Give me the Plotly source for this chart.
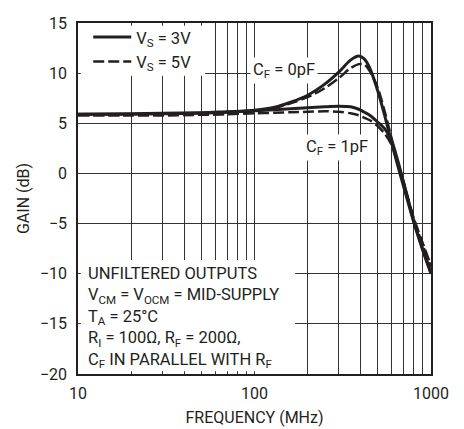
import plotly.graph_objects as go

# ---------------- data ----------------
freq_mhz = [10, 20, 30, 50, 70, 100, 130, 160, 200, 250, 300, 350, 390, 420, 450,
            500, 550, 600, 650, 700, 800, 900, 1000]

gain_3v_0pf = [5.9, 5.9, 5.95, 6.0, 6.1, 6.3, 6.6, 7.1, 7.8, 8.9, 10.1, 11.3, 11.7, 11.4, 10.5,
               8.2, 5.6, 3.0, 0.7, -1.3, -4.9, -7.7, -10.0]
gain_5v_0pf = [5.8, 5.8, 5.8, 5.85, 5.95, 6.2, 6.5, 7.0, 7.6, 8.5, 9.5, 10.5, 10.9, 10.85, 10.2,
               8.5, 6.0, 3.4, 1.0, -1.0, -4.5, -7.0, -9.2]
gain_3v_1pf = [5.9, 5.95, 6.0, 6.05, 6.15, 6.25, 6.35, 6.45, 6.55, 6.65, 6.7, 6.65, 6.4, 6.1, 5.8,
               5.1, 4.4, 3.2, 1.2, -0.9, -4.8, -7.6, -9.9]
gain_5v_1pf = [5.8, 5.8, 5.8, 5.85, 5.9, 6.0, 6.05, 6.1, 6.15, 6.2, 6.15, 6.0, 5.8, 5.55, 5.3,
               4.7, 3.9, 2.8, 1.0, -0.9, -4.6, -7.2, -9.3]

x_grid_vals = [10, 20, 30, 40, 50, 60, 70, 80, 90, 100, 200, 300, 400, 500, 600, 700, 800, 900, 1000]
x_tick_text = ["10", "", "", "", "", "", "", "", "", "100", "", "", "", "", "", "", "", "", "1000"]
y_ticks = [-20, -15, -10, -5, 0, 5, 10, 15]

FONT = "Roboto, Liberation Sans, sans-serif"
INK = "#231f20"

fig = go.Figure()
fig.add_trace(go.Scatter(x=freq_mhz, y=gain_3v_0pf, mode="lines", name="V<sub>S</sub> = 3V",
                         legendgroup="3v", line=dict(color=INK, width=3, shape="spline", smoothing=0.8)))
fig.add_trace(go.Scatter(x=freq_mhz, y=gain_5v_0pf, mode="lines", name="V<sub>S</sub> = 5V",
                         legendgroup="5v", line=dict(color=INK, width=2.5, dash="11px,4px", shape="spline", smoothing=0.8)))
fig.add_trace(go.Scatter(x=freq_mhz, y=gain_3v_1pf, mode="lines", showlegend=False,
                         legendgroup="3v", line=dict(color=INK, width=3, shape="spline", smoothing=0.8)))
fig.add_trace(go.Scatter(x=freq_mhz, y=gain_5v_1pf, mode="lines", showlegend=False,
                         legendgroup="5v", line=dict(color=INK, width=2.5, dash="11px,4px", shape="spline", smoothing=0.8)))

# white boxes behind legend and note
fig.add_shape(type="rect", xref="paper", yref="paper", x0=0.008, x1=0.36, y0=0.85, y1=0.992,
              fillcolor="white", line=dict(width=0), layer="above")
fig.add_shape(type="rect", xref="paper", yref="paper", x0=0.008, x1=0.615, y0=0.008, y1=0.325,
              fillcolor="white", line=dict(width=0), layer="above")

fig.add_annotation(x=0.022, y=0.002, xref="paper", yref="paper", xanchor="left", yanchor="bottom",
                   align="left", showarrow=False, font=dict(size=16.5, color=INK, family=FONT),
                   text="UNFILTERED OUTPUTS<br>V<sub>CM</sub> = V<sub>OCM</sub> = MID-SUPPLY<br>"
                        "T<sub>A</sub> = 25°C<br>R<sub>I</sub> = 100Ω, R<sub>F</sub> = 200Ω,<br>"
                        "C<sub>F</sub> IN PARALLEL WITH R<sub>F</sub>")
fig.add_annotation(x=2.165, y=10.3, xref="x", yref="y", showarrow=False, bgcolor="white", borderpad=2,
                   font=dict(size=16.5, color=INK, family=FONT), text="C<sub>F</sub> = 0pF")
fig.add_annotation(x=2.47, y=2.6, xref="x", yref="y", showarrow=False, bgcolor="white", borderpad=2,
                   font=dict(size=16.5, color=INK, family=FONT), text="C<sub>F</sub> = 1pF")

fig.update_layout(
    width=464, height=429,
    margin=dict(l=78, r=33, t=23, b=55),
    paper_bgcolor="white", plot_bgcolor="white",
    font=dict(family=FONT, size=16, color=INK),
    legend=dict(x=0.029, y=1.009, xanchor="left", yanchor="top", bgcolor="rgba(0,0,0,0)",
                font=dict(size=16.5, family=FONT, color=INK), itemwidth=38, tracegroupgap=0),
    showlegend=True,
)
fig.update_xaxes(type="log", range=[1, 3], tickvals=x_grid_vals, ticktext=x_tick_text,
                 showgrid=True, gridcolor="#333", gridwidth=1, ticks="", automargin=False,
                 showline=True, linecolor=INK, linewidth=1.5, mirror=True,
                 ticklabelstandoff=4,
                 title=dict(text="FREQUENCY (MHz)", font=dict(size=16, family=FONT), standoff=10),
                 tickfont=dict(size=16, family=FONT))
fig.update_yaxes(range=[-20, 15], tickvals=y_ticks, showgrid=True, gridcolor="#333", gridwidth=1,
                 zeroline=False, ticks="", showline=True, linecolor=INK, linewidth=1.5, mirror=True,
                 ticklabelstandoff=6, automargin=False,
                 title=dict(text="GAIN (dB)", font=dict(size=16, family=FONT), standoff=6),
                 tickfont=dict(size=16, family=FONT))

fig.write_html("out.html", config={"displayModeBar": False},
               post_script="document.body.style.margin='0';")
